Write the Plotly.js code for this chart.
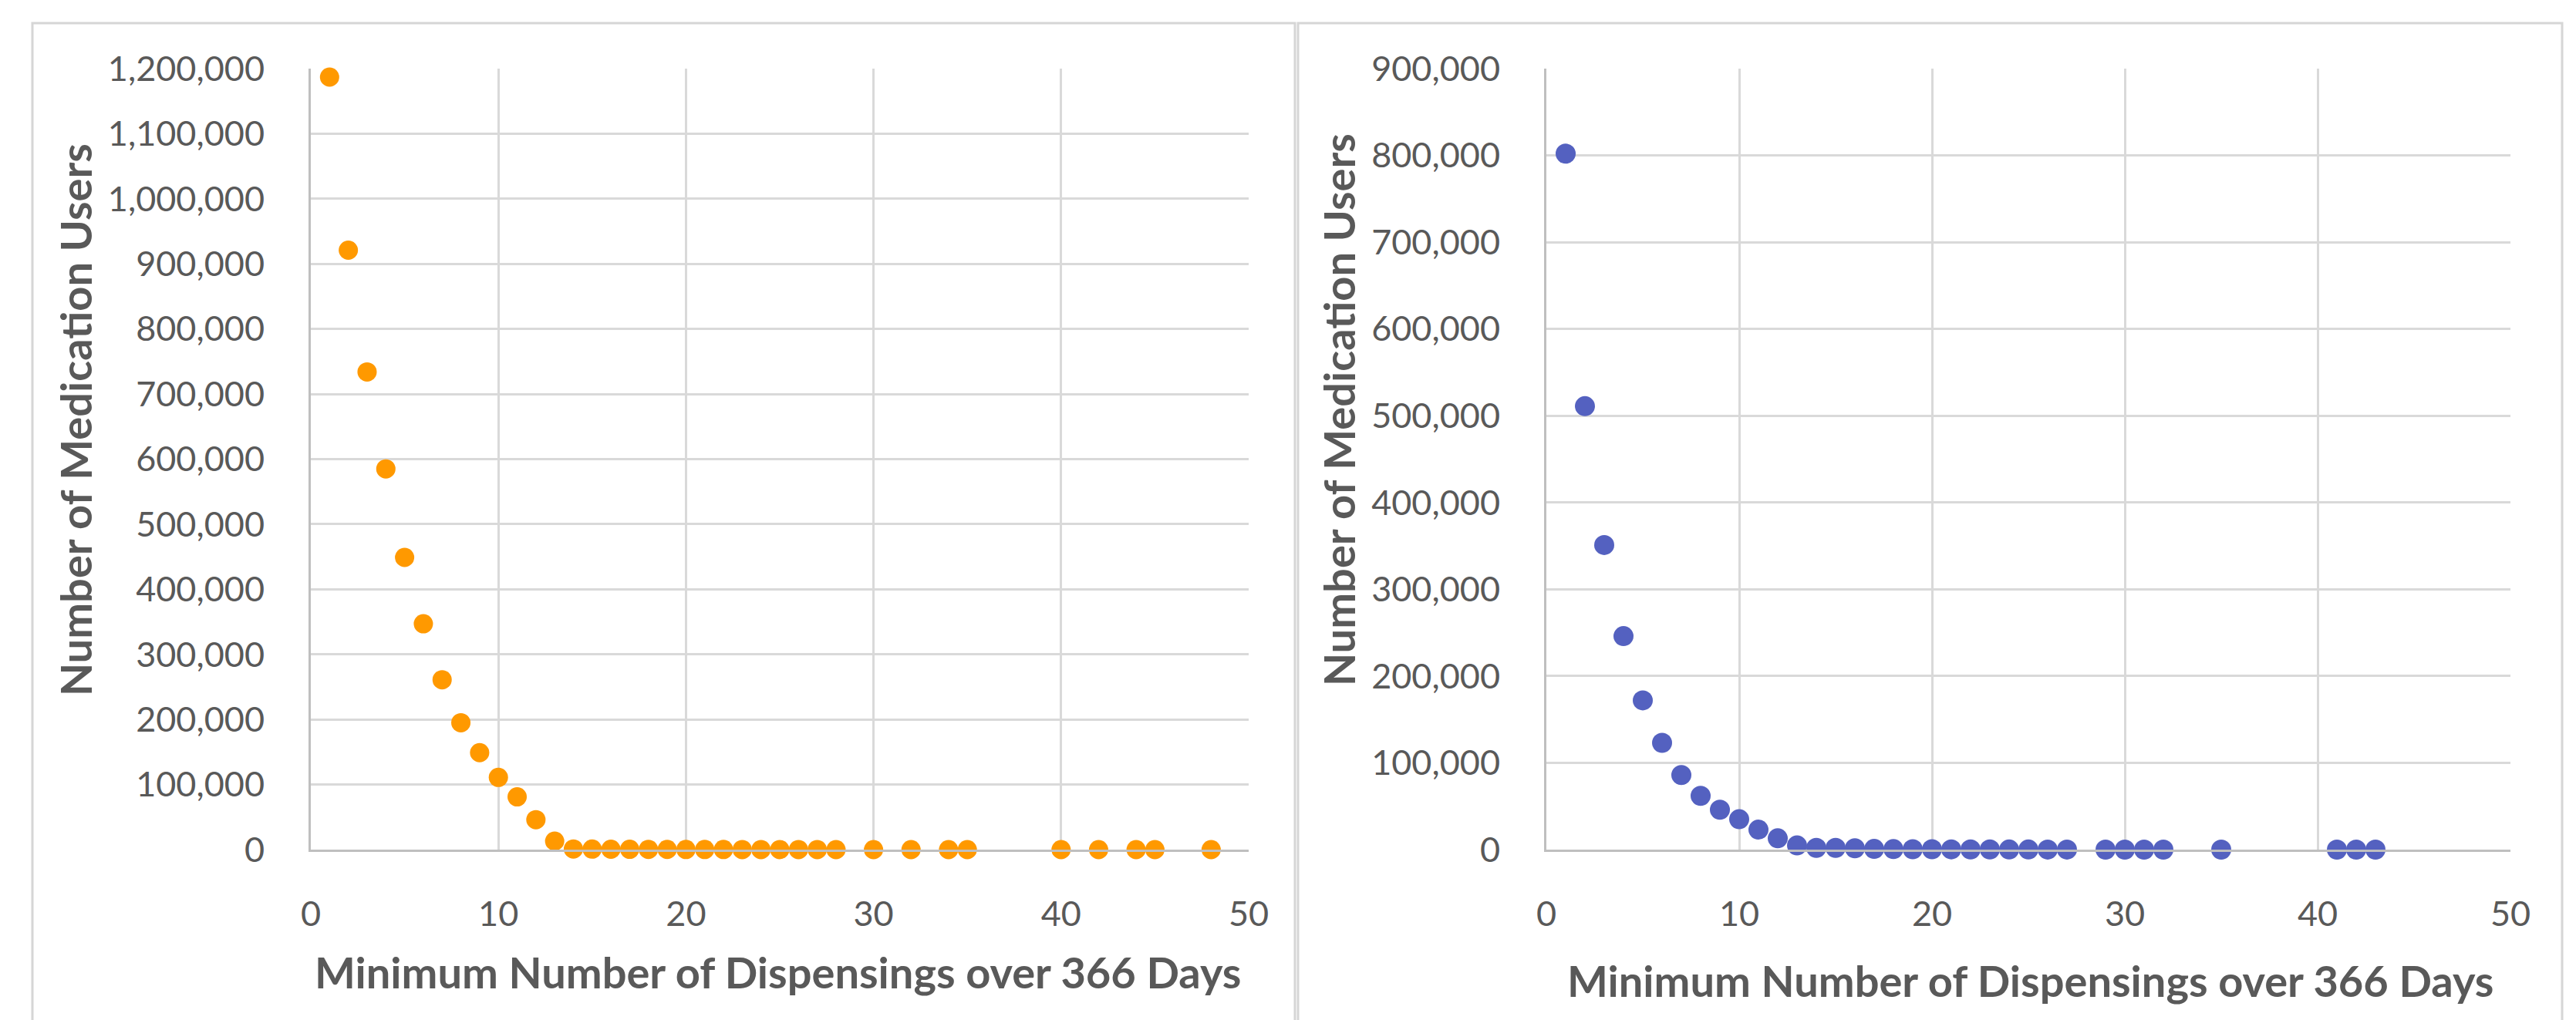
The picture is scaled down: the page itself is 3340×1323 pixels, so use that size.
<!DOCTYPE html>
<html>
<head>
<meta charset="utf-8">
<script src="https://cdn.plot.ly/plotly-3.0.1.min.js"></script>
<style>
  html, body { margin: 0; padding: 0; background: #ffffff; }
  #chart { width: 3340px; height: 1323px; }
</style>
</head>
<body>
<div id="chart"></div>
<script>
// ---- Data ----
const leftX = [1, 2, 3, 4, 5, 6, 7, 8, 9, 10, 11, 12, 13,
               14, 15, 16, 17, 18, 19, 20, 21, 22, 23, 24, 25, 26, 27, 28,
               30, 32, 34, 35, 40, 42, 44, 45, 48];
const leftY = [1187000, 921000, 734000, 585000, 449000, 347000, 261000, 195000, 149000, 111000, 81000, 46000, 13000,
               1000, 800, 600, 500, 400, 300, 250, 200, 150, 120, 100, 80, 60, 50, 40,
               30, 20, 15, 12, 8, 6, 5, 4, 2];

const rightX = [1, 2, 3, 4, 5, 6, 7, 8, 9, 10, 11, 12, 13, 14, 15, 16, 17,
                18, 19, 20, 21, 22, 23, 24, 25, 26, 27,
                29, 30, 31, 32, 35, 41, 42, 43];
const rightY = [802000, 511000, 351000, 246000, 172000, 123000, 86000, 62000, 46000, 35000, 23000, 13000, 4800, 2000, 2000, 1500, 800,
                600, 500, 400, 300, 250, 200, 150, 120, 100, 80,
                50, 40, 30, 25, 15, 8, 6, 4];

const xTickVals = [0, 10, 20, 30, 40, 50];
const leftYTicks = [0, 100000, 200000, 300000, 400000, 500000, 600000, 700000, 800000, 900000, 1000000, 1100000, 1200000];
const rightYTicks = [0, 100000, 200000, 300000, 400000, 500000, 600000, 700000, 800000, 900000];

const xTitle = 'Minimum Number of Dispensings over 366 Days';
const yTitle = 'Number of Medication Users';

// ---- Styling ----
const W = 3340, H = 1323;
const px = v => v / W;
const py = v => 1 - v / H;

const tickFont = { family: 'Lato, "Open Sans", sans-serif', size: 45, color: '#595959' };
const titleFont = { family: 'Lato, "Open Sans", sans-serif', size: 56, color: '#595959', weight: 'bold' };

function xAxis(domain, anchor) {
  return {
    domain: domain, anchor: anchor, range: [0, 50], tickvals: xTickVals,
    showgrid: true, gridcolor: '#d9d9d9', gridwidth: 3,
    showline: true, linecolor: '#bfbfbf', linewidth: 3,
    zeroline: false, ticks: '', tickfont: tickFont, ticklabelstandoff: 42,
    fixedrange: true
  };
}
function yAxis(domain, anchor, maxv, ticks) {
  return {
    domain: domain, anchor: anchor, range: [0, maxv], tickvals: ticks, tickformat: ',d',
    showgrid: true, gridcolor: '#d9d9d9', gridwidth: 3,
    showline: true, linecolor: '#bfbfbf', linewidth: 3,
    zeroline: false, ticks: '', tickfont: tickFont, ticklabelstandoff: 48,
    fixedrange: true
  };
}

const yDom = [py(1102), py(89)];

const traces = [
  { type: 'scatter', mode: 'markers', x: leftX, y: leftY, xaxis: 'x', yaxis: 'y',
    marker: { color: '#FF9900', size: 25, line: { width: 0 } }, cliponaxis: false, hoverinfo: 'x+y' },
  { type: 'scatter', mode: 'markers', x: rightX, y: rightY, xaxis: 'x2', yaxis: 'y2',
    marker: { color: '#5461C0', size: 26, line: { width: 0 } }, cliponaxis: false, hoverinfo: 'x+y' }
];

const layout = {
  width: W, height: H,
  margin: { l: 0, r: 0, t: 0, b: 0, pad: 0 },
  paper_bgcolor: '#ffffff', plot_bgcolor: '#ffffff',
  showlegend: false,
  xaxis: xAxis([px(403), px(1619)], 'y'),
  yaxis: yAxis(yDom, 'x', 1200000, leftYTicks),
  xaxis2: xAxis([px(2005), px(3255)], 'y2'),
  yaxis2: yAxis(yDom, 'x2', 900000, rightYTicks),
  shapes: [
    { type: 'rect', xref: 'paper', yref: 'paper', x0: px(42), x1: px(1679), y0: -0.05, y1: py(30),
      line: { color: '#d6d6d6', width: 3 }, fillcolor: 'rgba(0,0,0,0)', layer: 'below' },
    { type: 'rect', xref: 'paper', yref: 'paper', x0: px(1683), x1: px(3322), y0: -0.05, y1: py(30),
      line: { color: '#d6d6d6', width: 3 }, fillcolor: 'rgba(0,0,0,0)', layer: 'below' }
  ],
  annotations: [
    { text: xTitle, xref: 'paper', yref: 'paper', x: px(1009), y: py(1260), xanchor: 'center', yanchor: 'middle',
      showarrow: false, font: titleFont },
    { text: xTitle, xref: 'paper', yref: 'paper', x: px(2633), y: py(1271), xanchor: 'center', yanchor: 'middle',
      showarrow: false, font: titleFont },
    { text: yTitle, xref: 'paper', yref: 'paper', x: px(97), y: py(545), xanchor: 'center', yanchor: 'middle',
      textangle: -90, showarrow: false, font: titleFont },
    { text: yTitle, xref: 'paper', yref: 'paper', x: px(1735), y: py(532), xanchor: 'center', yanchor: 'middle',
      textangle: -90, showarrow: false, font: titleFont }
  ]
};

Plotly.newPlot('chart', traces, layout, { displayModeBar: false, staticPlot: true });
</script>
</body>
</html>
